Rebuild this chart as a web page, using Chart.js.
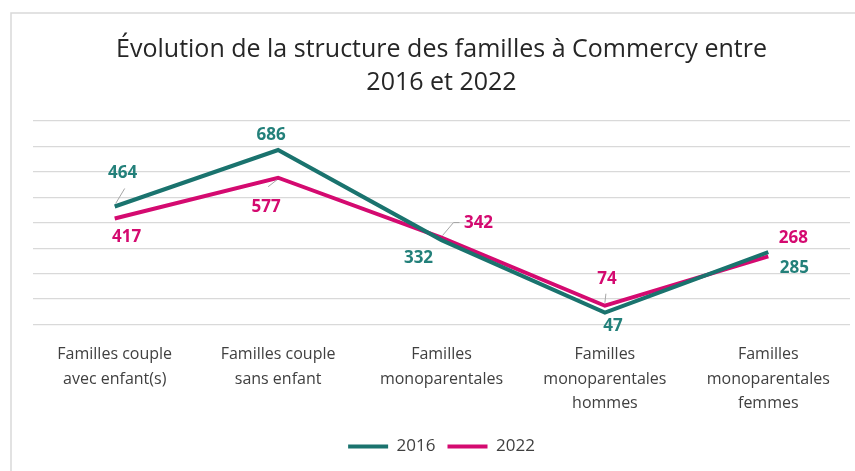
<!DOCTYPE html>
<html lang="fr">
<head>
<meta charset="utf-8">
<title>Évolution de la structure des familles à Commercy</title>
<script src="https://cdn.jsdelivr.net/npm/chart.js@4"></script>
<style>
  html, body { margin: 0; padding: 0; background: #fff; }
</style>
</head>
<body>
<canvas id="chart" width="855" height="471"></canvas>
<script>
// Données
const categories = [
  ['Familles couple', 'avec enfant(s)'],
  ['Familles couple', 'sans enfant'],
  ['Familles', 'monoparentales'],
  ['Familles', 'monoparentales', 'hommes'],
  ['Familles', 'monoparentales', 'femmes']
];
const values2016 = [464, 686, 332, 47, 285];
const values2022 = [417, 577, 342, 74, 268];
const yTicks = [0, 100, 200, 300, 400, 500, 600, 700, 800];

const TEAL = '#1a736e';
const MAGENTA = '#d40a70';
const TEXT = '#404040';
const GRID = '#d9d9d9';

// décalage des étiquettes par rapport au point [dx, dy]
const labelOffsets = [
  [[8, -33], [-7, -15], [-23, 18], [8, 14], [26, 16]],
  [[12, 19], [-12, 29], [37, -14], [2, -27], [25, -18]]
];
// traits de rappel (polyligne relative au point), null si aucun
const leaders = [
  [[[1, -3], [10, -18]], null, null, null, null],
  [null, [[-1, 2], [-10, 9]], [[1, -2], [12, -15], [18, -15]], [[0, -3], [1, -12]], null]
];

// cadre gris autour du graphique
const framePlugin = {
  id: 'frame',
  beforeDraw(chart) {
    const ctx = chart.ctx;
    ctx.save();
    ctx.fillStyle = '#fff';
    ctx.fillRect(0, 0, chart.width, chart.height);
    ctx.strokeStyle = '#d9d9d9';
    ctx.lineWidth = 1.5;
    ctx.strokeRect(11, 13, chart.width + 20, chart.height + 20);
    ctx.restore();
  }
};

// étiquettes de données
const valueLabels = {
  id: 'valueLabels',
  afterDatasetsDraw(chart) {
    const ctx = chart.ctx;
    ctx.save();
    ctx.font = 'bold 17px "Open Sans", sans-serif';
    ctx.textAlign = 'center';
    ctx.textBaseline = 'middle';
    chart.data.datasets.forEach((ds, i) => {
      const meta = chart.getDatasetMeta(i);
      meta.data.forEach((pt, j) => {
        const [dx, dy] = labelOffsets[i][j];
        const lead = leaders[i][j];
        if (lead) {
          ctx.strokeStyle = '#a6a6a6';
          ctx.lineWidth = 1;
          ctx.beginPath();
          lead.forEach(([lx, ly], k) => {
            if (k === 0) ctx.moveTo(pt.x + lx, pt.y + ly);
            else ctx.lineTo(pt.x + lx, pt.y + ly);
          });
          ctx.stroke();
        }
        ctx.fillStyle = i === 0 ? '#23807a' : MAGENTA;
        ctx.fillText(String(ds.data[j]), pt.x + dx, pt.y + dy);
      });
    });
    ctx.restore();
  }
};

new Chart(document.getElementById('chart'), {
  type: 'line',
  data: {
    labels: categories,
    datasets: [
      {
        label: '2016',
        data: values2016,
        borderColor: TEAL,
        backgroundColor: TEAL,
        borderWidth: 4,
        pointRadius: 0,
        tension: 0
      },
      {
        label: '2022',
        data: values2022,
        borderColor: MAGENTA,
        backgroundColor: MAGENTA,
        borderWidth: 4,
        pointRadius: 0,
        tension: 0
      }
    ]
  },
  options: {
    responsive: false,
    animation: false,
    devicePixelRatio: 1,
    layout: { padding: { left: 33, right: 5, top: 34, bottom: 6 } },
    plugins: {
      title: {
        display: true,
        text: ['Évolution de la structure des familles à Commercy entre', '2016 et 2022'],
        color: '#262626',
        font: { family: '"Open Sans", sans-serif', size: 25, weight: 'normal', lineHeight: 1.3 },
        padding: { top: 0, bottom: 22 }
      },
      legend: {
        position: 'bottom',
        labels: {
          color: TEXT,
          font: { family: '"Open Sans", sans-serif', size: 17 },
          boxWidth: 40,
          boxHeight: 4,
          padding: 12,
          generateLabels(chart) {
            return chart.data.datasets.map((ds, i) => ({
              text: ds.label,
              fillStyle: ds.borderColor,
              strokeStyle: ds.borderColor,
              lineWidth: 0,
              fontColor: TEXT,
              datasetIndex: i
            }));
          }
        }
      },
      tooltip: { enabled: false }
    },
    scales: {
      x: {
        offset: true,
        grid: { display: false },
        border: { display: false },
        ticks: {
          color: TEXT,
          font: { family: '"Open Sans", sans-serif', size: 16, lineHeight: 1.53 },
          padding: 10,
          maxRotation: 0,
          autoSkip: false
        }
      },
      y: {
        min: yTicks[0],
        max: yTicks[yTicks.length - 1],
        afterBuildTicks(axis) { axis.ticks = yTicks.map(v => ({ value: v })); },
        ticks: { display: false },
        grid: { color: GRID, lineWidth: 1.3, drawTicks: false },
        border: { display: false }
      }
    }
  },
  plugins: [framePlugin, valueLabels]
});
</script>
</body>
</html>
